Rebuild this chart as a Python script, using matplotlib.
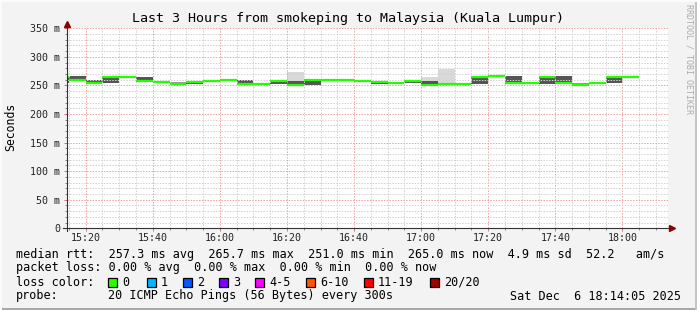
import numpy as np
import matplotlib
matplotlib.use("Agg")
import matplotlib.pyplot as plt
from matplotlib.patches import Rectangle
from matplotlib.lines import Line2D
from matplotlib.ticker import MultipleLocator

W, H = 697, 310
nan = np.nan

title = "Last 3 Hours from smokeping to Malaysia (Kuala Lumpur)"
first_step = 10      # minutes after 15:00 where the first 5 min step starts
step_len = 5

# median rtt per step (ms)
median_ms = [265.5, 259.3, 254.7, 265.2, 265.2, 258.2, 256.0, 252.5, 255.3, 257.6,
             259.9, 252.5, 252.5, 258.2, 251.0, 259.9, 259.9, 259.9, 258.2, 255.8,
             254.7, 258.2, 251.2, 252.5, 252.5, 264.6, 265.7, 254.7, 254.7, 265.3,
             254.7, 251.0, 253.5, 264.6, 265.0]
# smoke bands (ms)
dark_lo = [254.7, 259.3, 252.9, 254.7, nan, 258.2, nan, nan, 252.3, nan,
           nan, 252.3, nan, 252.9, 251.0, 251.2, nan, nan, nan, 252.9,
           nan, 254.7, 251.2, nan, nan, 252.9, nan, 254.7, nan, 252.3,
           254.7, nan, 252.3, 254.7, nan]
dark_hi = [265.5, 266.3, 258.8, 265.2, nan, 264.6, nan, nan, 255.8, nan,
           nan, 259.3, nan, 258.2, 257.6, 259.9, nan, nan, nan, 257.6,
           nan, 258.2, 258.2, nan, nan, 266.3, nan, 266.3, nan, 266.9,
           266.3, nan, 254.7, 264.6, nan]
mid_lo = {7: 252.3, 31: 251.2}
mid_hi = {7: 255.3, 31: 253.5}
light_lo = {14: 257.6, 22: 258.2, 23: 252.3}
light_hi = {14: 273.4, 22: 265.0, 23: 279.5}

xtick_min = [20, 40, 60, 80, 100, 120, 140, 160, 180]
xtick_labels = ["15:20", "15:40", "16:00", "16:20", "16:40", "17:00", "17:20", "17:40", "18:00"]
ytick_vals = [0, 50, 100, 150, 200, 250, 300, 350]
ytick_labels = ["0", "50 m", "100 m", "150 m", "200 m", "250 m", "300 m", "350 m"]

legend_rtt = "median rtt:  257.3 ms avg  265.7 ms max  251.0 ms min  265.0 ms now  4.9 ms sd  52.2   am/s"
legend_loss = "packet loss: 0.00 % avg  0.00 % max  0.00 % min  0.00 % now"
loss_labels = ["0", "1", "2", "3", "4-5", "6-10", "11-19", "20/20"]
loss_colors = ["#26ff00", "#00b8ff", "#0059ff", "#7e00ff", "#ff00ff", "#ff5500", "#ff0000", "#a10000"]
probe_text = "20 ICMP Echo Pings (56 Bytes) every 300s"
date_text = "Sat Dec  6 18:14:05 2025"

mono = "DejaVu Sans Mono"

fig = plt.figure(figsize=(W / 100, H / 100), dpi=100, facecolor="#f3f3f3")

# plot area in pixels
x0, x1, y0, y1 = 67, 668, 28.3, 228.3
ax = fig.add_axes([x0 / W, 1 - y1 / H, (x1 - x0) / W, (y1 - y0) / H])
ax.set_facecolor("white")
ax.set_xlim(14.42, 193.6)
ax.set_ylim(0, 350)

n = len(median_ms)
t0 = np.array([first_step + i * step_len for i in range(n)])

def band(lo, hi, color):
    for i in range(n):
        a = lo[i] if not isinstance(lo, dict) else lo.get(i, nan)
        b = hi[i] if not isinstance(hi, dict) else hi.get(i, nan)
        if np.isnan(a) or np.isnan(b):
            continue
        ax.bar(t0[i], b - a, bottom=a, width=step_len, align="edge",
               color=color, linewidth=0, zorder=1)

band(light_lo, light_hi, "#d9d9d9")
band(mid_lo, mid_hi, "#9a9a9a")
band(dark_lo, dark_hi, "#555555")
ax.hlines(median_ms, t0, t0 + step_len, colors="#22ff00", linewidth=1.6, zorder=3)

# dotted grid like rrdtool
ax.set_xticks(xtick_min)
ax.set_xticklabels(xtick_labels)
ax.xaxis.set_minor_locator(MultipleLocator(5))
ax.set_yticks(ytick_vals)
ax.set_yticklabels(ytick_labels)
ax.yaxis.set_minor_locator(MultipleLocator(10))
ax.set_axisbelow(False)
ax.grid(which="minor", color="#d2d2d2", linestyle=(0, (1.4, 1.4)), linewidth=0.72)
ax.grid(which="major", color="#f2a0a0", linestyle=(0, (1.4, 1.4)), linewidth=0.72)
for s in ax.spines.values():
    s.set_visible(False)
ax.tick_params(which="major", length=2.5, width=0.72, color="#e07070", labelsize=7.2,
               labelcolor="#222222")
ax.tick_params(which="minor", length=1.5, width=0.72, color="#888888")
ax.tick_params(axis="x", which="major", pad=1.2)
ax.tick_params(axis="y", which="major", pad=2.5)
for lab in ax.get_xticklabels() + ax.get_yticklabels():
    lab.set_family(mono)

# axes with arrows (pixel coords)
def fpx(x, y):
    return x / W, 1 - y / H

fig.add_artist(Line2D(*zip(fpx(x0, 231), fpx(x0, 24)), color="#333333", lw=0.8))
fig.add_artist(Line2D(*zip(fpx(63, y1), fpx(671, y1)), color="#333333", lw=0.8))
fig.add_artist(Line2D([x0 / W], [1 - 23.5 / H], marker="^", markersize=4.5,
                      color="#8b0000", linestyle="none"))
fig.add_artist(Line2D([672 / W], [1 - y1 / H], marker=">", markersize=4.5,
                      color="#8b0000", linestyle="none"))

fig.text(*fpx(348, 18.5), title, family=mono, fontsize=9.6, ha="center", va="center")
fig.text(*fpx(11, 127), "Seconds", family=mono, fontsize=8.3, rotation=90,
         ha="center", va="center")
fig.text(*fpx(688.5, 4), "RRDTOOL / TOBI OETIKER", family=mono, fontsize=6,
         rotation=270, ha="center", va="top", color="#ababab")

# legend
fig.text(*fpx(16, 254.3), legend_rtt, family=mono, fontsize=8.5, va="center")
fig.text(*fpx(16, 268), legend_loss, family=mono, fontsize=8.5, va="center")
fig.text(*fpx(16, 282.3), "loss color:", family=mono, fontsize=8.5, va="center")
sq_x = [108, 147, 183, 219, 255, 306, 364, 430]
for sx, lab, col in zip(sq_x, loss_labels, loss_colors):
    fig.add_artist(Rectangle((sx / W, 1 - 286.5 / H), 8.5 / W, 8.5 / H,
                             facecolor=col, edgecolor="black", linewidth=0.9))
    fig.text(*fpx(sx + 14, 282.3), lab, family=mono, fontsize=8.5, va="center")
fig.text(*fpx(16, 296), "probe:", family=mono, fontsize=8.5, va="center")
fig.text(*fpx(108, 296), probe_text, family=mono, fontsize=8.5, va="center")
fig.text(*fpx(681, 296), date_text, family=mono, fontsize=8.5, va="center", ha="right")

# frame shading
fig.add_artist(Rectangle((0, 0), 1, 2 / H, facecolor="#a8a8a8", edgecolor="none"))
fig.add_artist(Rectangle(((W - 2) / W, 0), 2 / W, 1, facecolor="#c4c4c4", edgecolor="none"))
fig.add_artist(Rectangle((0, 1 - 2 / H), 1, 2 / H, facecolor="#fbfbfb", edgecolor="none"))
fig.add_artist(Rectangle((0, 0), 2 / W, 1, facecolor="#fbfbfb", edgecolor="none"))

fig.savefig("out.png", dpi=100, facecolor=fig.get_facecolor())
